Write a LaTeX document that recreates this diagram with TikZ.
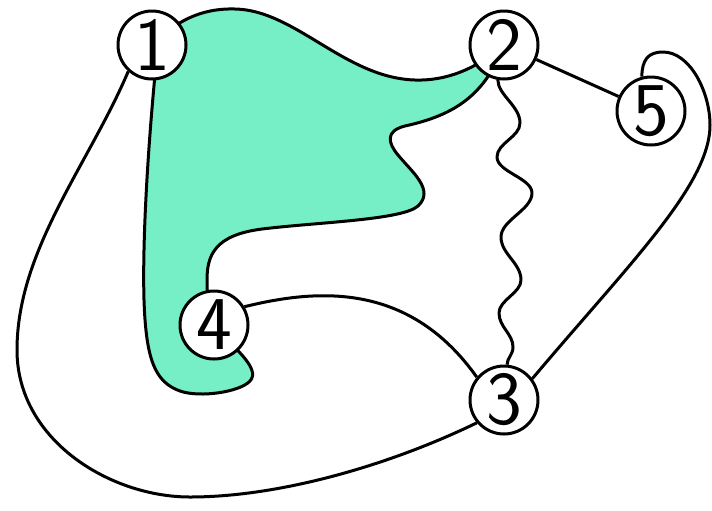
\documentclass[tikz,border=0pt]{standalone}
\definecolor{blobfill}{RGB}{118,238,198}
\begin{document}
\begin{tikzpicture}[x=0.5pt,y=-0.5pt,line width=1.5pt,line join=round,
  vertex/.style={circle,draw,fill=white,inner sep=0pt,minimum size=34pt,
    font=\sffamily\fontsize{38}{38}\selectfont}]
\useasboundingbox (0,0) rectangle (712,510);

% shaded region spanning vertices 1, 2 and 4
\draw[fill=blobfill]
  (152,45) .. controls (175,22) and (200,8) .. (235,9)
  .. controls (295,10) and (345,78) .. (415,80)
  .. controls (445,81) and (475,70) .. (504,45)
  .. controls (485,95) and (455,115) .. (405,126)
  .. controls (385,131) and (388,143) .. (398,155)
  .. controls (412,172) and (435,190) .. (418,206)
  .. controls (402,220) and (320,222) .. (262,229)
  .. controls (215,235) and (207,255) .. (207,280)
  .. controls (207,300) and (210,315) .. (214,325)
  .. controls (230,345) and (262,368) .. (250,381)
  .. controls (240,392) and (200,398) .. (180,391)
  .. controls (155,382) and (146,360) .. (144,300)
  .. controls (142,230) and (150,120) .. (158,45) -- cycle;

% vertices
\node[vertex] (v1) at (152,45) {1};
\node[vertex] (v2) at (504,45) {2};
\node[vertex] (v5) at (651,111) {5};
\node[vertex] (v4) at (214,325) {4};
\node[vertex] (v3) at (504,400) {3};

% edges
\draw (v2) -- (v5);

\draw (v1.-132) .. controls (89,164) and (17,250) .. (17,350)
  .. controls (17,440) and (110,497) .. (190,497)
  .. controls (280,497) and (390,465) .. (v3.-140);

\draw (v4.31) .. controls (320,288) and (410,283) .. (v3.140);

\draw (v3.37) .. controls (628,265) and (710,185) .. (710,125)
  .. controls (710,92) and (690,52) .. (663,52)
  .. controls (648,52) and (642,60) .. (v5.105);

% wavy edge between 2 and 3
\draw (v2.-100) .. controls (498,95) and (520,106) .. (520,123)
  .. controls (520,137) and (497,143) .. (497,157)
  .. controls (497,172) and (532,178) .. (532,193)
  .. controls (532,210) and (501,220) .. (501,237)
  .. controls (501,254) and (521,263) .. (521,280)
  .. controls (521,293) and (499,300) .. (499,313)
  .. controls (499,327) and (513,334) .. (513,347)
  .. controls (513,355) and (507,358) .. (v3.85);
\end{tikzpicture}
\end{document}
